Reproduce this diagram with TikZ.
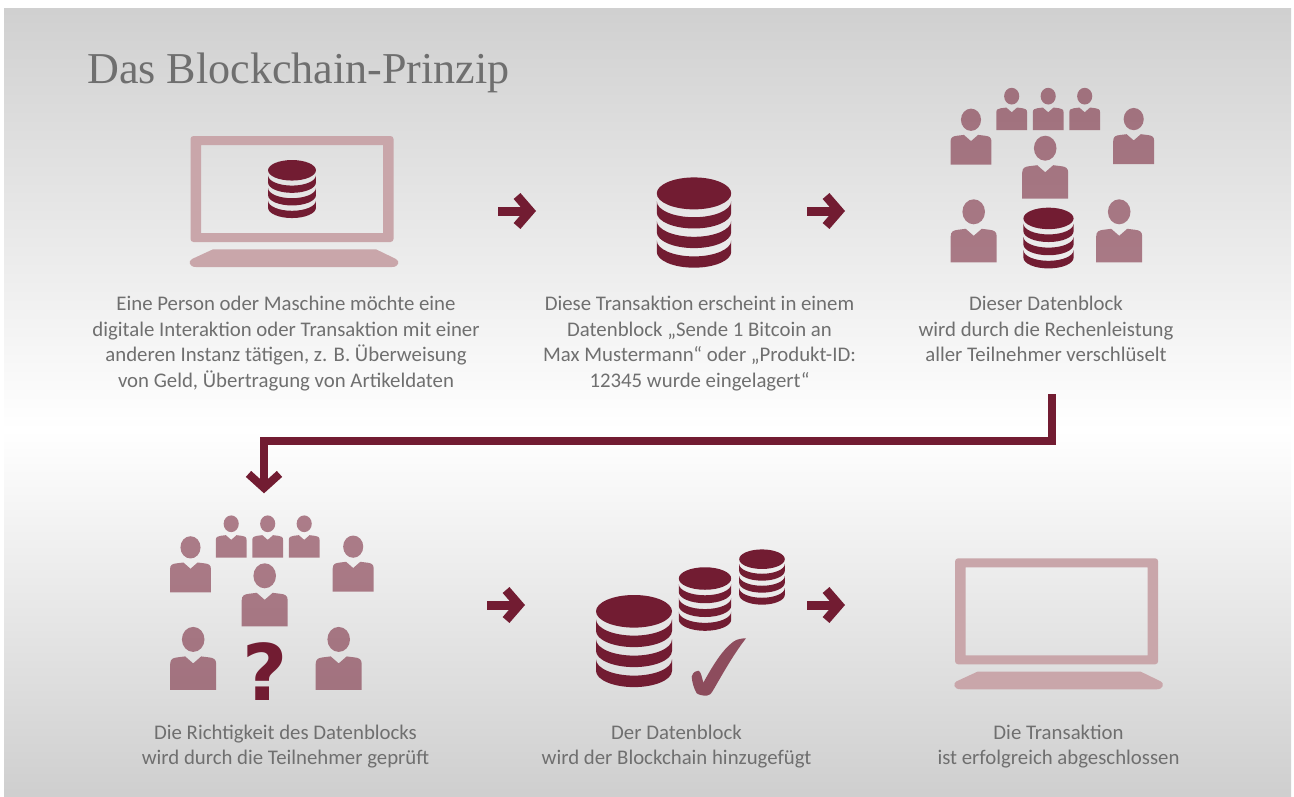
\documentclass[tikz,border=0pt]{standalone}
\usepackage{fontspec}
\usepackage{xcolor}
\usepackage{tikz}
\usetikzlibrary{arrows.meta}
\setmainfont{Carlito}
\newfontfamily\titlefont{Liberation Serif}
\newfontfamily\markfont{DejaVu Sans}
\definecolor{maroon}{HTML}{721C32}
\definecolor{rosegrey}{HTML}{C9A6AA}
\definecolor{textgrey}{HTML}{6F6F6F}
\tikzset{
x=1pt, y=1pt, % one unit is one pixel of the layout
stepflow/.style={draw=maroon, line width=9pt, -{Straight Barb[length=13pt,width=30pt]}}, % the short arrows
longflow/.style={draw=maroon, line width=8pt, miter limit=4, -{Straight Barb[length=14pt,width=31pt]}}, % the long arrow between the rows
caption/.style={anchor=north, align=center, inner sep=0pt, text=textgrey, font=\fontsize{20.8}{25.5}\selectfont},
pics/dbstack/.style={code={
    \fill[maroon] (0,29.7) ellipse[x radius=38, y radius=16.3];
    \foreach \k in {0,1,2}
        \fill[maroon] (-38,21.7-20*\k) arc[start angle=180, end angle=360, x radius=38, y radius=16.3]
            -- ++(0,-11.5) arc[start angle=0, end angle=-180, x radius=38, y radius=16.3] -- cycle;
}},
pics/person/.style={code={
    \fill[maroon, opacity=.55] (0,50.5) ellipse[x radius=11.3, y radius=12.5];
    \fill[maroon, opacity=.55] (-23,0) -- (-23,26) .. controls (-23,31) and (-20,32) .. (-16,32.5) -- (-8,33.5) -- (0,26.5)
        -- (8,33.5) -- (16,32.5) .. controls (20,32) and (23,31) .. (23,26) -- (23,0) -- cycle;
}},
pics/crowd/.style={code={
    \pic at (0,0) {person};
    \pic at (-71.5,-63.6) {person};
    \pic at (74,-63.6) {person};
    \pic[scale=.89] at (-74.2,34) {person};
    \pic[scale=.89] at (88.5,34.7) {person};
    \foreach \px in {-33.5,3,39.5}
        \pic[scale=.67] at (\px,68.7) {person};
}},
pics/laptop/.style={code={
    \fill[rosegrey, even odd rule, rounded corners=3pt] (-101.5,-53) rectangle (101.5,53)
        [sharp corners] (-91,-44) rectangle (91,44);
    \fill[rosegrey] (-79,-60.3) -- (84,-60.3) -- (104,-70) .. controls (108,-72) and (107,-78) .. (100,-78)
        -- (-96,-78) .. controls (-103,-78) and (-104,-72) .. (-100,-70) -- cycle;
}},
}

\begin{document}
\begin{tikzpicture}
    \useasboundingbox (0,0) rectangle (1294,-796);
    % background
    \shade[top color=black!18.5, bottom color=white] (4,-8) rectangle (1291,-430);
    \shade[top color=white, bottom color=black!19] (4,-430) rectangle (1291,-796);

    \node[anchor=base west, inner sep=0pt, text=textgrey, font=\titlefont\fontsize{44.1}{50}\selectfont] (title) at (87,-83) {Das Blockchain-Prinzip};

    % first row
    \pic at (292,-189) {laptop};
    \pic[scale=.63] at (292,-189) {dbstack};
    \pic[scale=.98] at (694,-222.5) {dbstack};
    \pic at (1045.2,-198.7) {crowd};
    \pic[scale=.66] at (1048.5,-238) {dbstack};

    \node[caption] (stepa) at (286,-296.2) {Eine Person oder Maschine möchte eine\\digitale Interaktion oder Transaktion mit einer\\anderen Instanz tätigen, z. B. Überweisung\\von Geld, Übertragung von Artikeldaten};
    \node[caption] (stepb) at (699.5,-296.2) {Diese Transaktion erscheint in einem\\Datenblock „Sende 1 Bitcoin an\\Max Mustermann“ oder „Produkt-ID:\\12345 wurde eingelagert“};
    \node[caption] (stepc) at (1046,-296.2) {Dieser Datenblock\\wird durch die Rechenleistung\\aller Teilnehmer verschlüselt};

    % second row
    \pic at (264.7,-626.3) {crowd};
    \node[text=maroon, inner sep=0pt, font=\markfont\bfseries\fontsize{78}{80}\selectfont] (query) at (264.7,-671.5) {?};
    \pic at (634,-641) {dbstack};
    \pic[scale=.69] at (705,-599) {dbstack};
    \pic[scale=.6] at (762,-577) {dbstack};
    \fill[maroon, opacity=.75] (691.7,-676.7) .. controls (693,-672) and (696,-670.7) .. (698.3,-670.7)
        .. controls (701,-671) and (702,-678) .. (703.3,-682.7) .. controls (712,-667) and (722,-650) .. (733.3,-641.7)
        .. controls (737,-639) and (742,-638.3) .. (746,-638.3) .. controls (733,-655) and (722,-675) .. (713.3,-690)
        .. controls (711,-694) and (709,-695.7) .. (706.7,-695.7) .. controls (703,-695.7) and (699,-695) .. (696.7,-693.3)
        .. controls (694,-689) and (692,-682) .. (691.7,-676.7) -- cycle;
    \pic at (1056.6,-611.3) {laptop};

    \node[caption] (stepd) at (285.5,-724.7) {Die Richtigkeit des Datenblocks\\wird durch die Teilnehmer geprüft};
    \node[caption] (stepe) at (676.5,-724.7) {Der Datenblock\\wird der Blockchain hinzugefügt};
    \node[caption] (stepf) at (1058.5,-724.7) {Die Transaktion\\ist erfolgreich abgeschlossen};

    % arrows
    \coordinate (aout) at (498.3,-211);
    \coordinate (bin) at (536,-211);
    \coordinate (bout) at (807,-211);
    \coordinate (cin) at (845,-211);
    \coordinate (cout) at (1052,-394);
    \coordinate (dtop) at (264,-493.3);
    \coordinate (dout) at (487,-605);
    \coordinate (ein) at (525,-605);
    \coordinate (eout) at (807.3,-605);
    \coordinate (fin) at (845,-605);

    \draw[stepflow] (aout) -- (bin);
    \draw[stepflow] (bout) -- (cin);
    \draw[stepflow] (dout) -- (ein);
    \draw[stepflow] (eout) -- (fin);
    \draw[longflow] (cout) -- ++(0,-46.7) -| (dtop);
\end{tikzpicture}
\end{document}
